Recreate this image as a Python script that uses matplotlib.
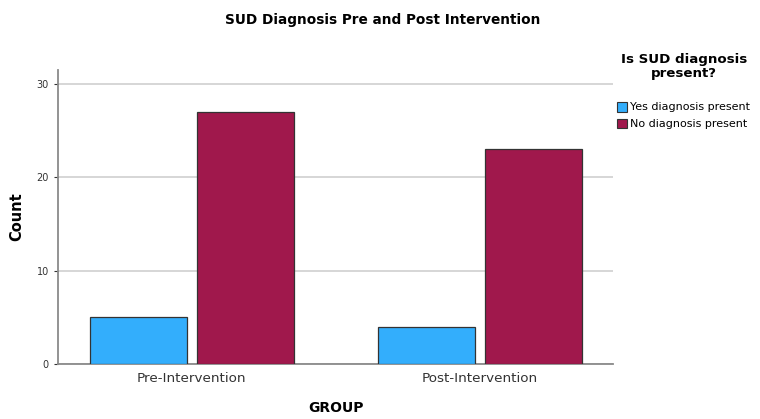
import numpy as np
import matplotlib
matplotlib.use("Agg")
import matplotlib.pyplot as plt
from matplotlib.patches import Patch

# data
groups = ["Pre-Intervention", "Post-Intervention"]
series_names = ["Yes diagnosis present", "No diagnosis present"]
yes_counts = [5, 4]
no_counts = [27, 23]
colors = ["#33AEFC", "#A0184C"]

fig = plt.figure(figsize=(7.6, 4.19), dpi=100)
ax = fig.add_axes([0.0763, 0.1313, 0.7303, 0.702])

x = np.arange(len(groups))
w = 0.336
gap = 0.035
ax.bar(x - (w + gap) / 2, yes_counts, w, color=colors[0], edgecolor="#333333", linewidth=0.9, zorder=3)
ax.bar(x + (w + gap) / 2, no_counts, w, color=colors[1], edgecolor="#333333", linewidth=0.9, zorder=3)

ax.set_xlim(-0.463, 1.461)
ax.set_ylim(0, 31.5)
ax.set_yticks([0, 10, 20, 30])
ax.yaxis.grid(True, color="#d0d0d0", linewidth=1.2, zorder=0)
ax.set_xticks(x)
ax.set_xticklabels(groups, fontsize=9.7, color="#333333")
ax.tick_params(axis="y", labelsize=7, colors="#333333", length=3, width=0.8)
ax.tick_params(axis="x", length=0, pad=6)
for s in ["top", "right"]:
    ax.spines[s].set_visible(False)
for s in ["left", "bottom"]:
    ax.spines[s].set_color("#8a8a8a")
    ax.spines[s].set_linewidth(1.3)

ax.set_ylabel("Count", fontsize=10.5, fontweight="bold", labelpad=9)
ax.set_xlabel("GROUP", fontsize=10, fontweight="bold", labelpad=11)

fig.text(0.503, 0.952, "SUD Diagnosis Pre and Post Intervention", ha="center", va="center",
         fontsize=9.8, fontweight="bold")
fig.text(0.9, 0.841, "Is SUD diagnosis\npresent?", ha="center", va="center",
         fontsize=9.6, fontweight="bold", linespacing=1.05)

handles = [Patch(facecolor=c, edgecolor="#333333", linewidth=0.8) for c in colors]
fig.legend(handles, series_names, loc="upper left", bbox_to_anchor=(0.806, 0.768),
           frameon=False, fontsize=8, handlelength=0.9, handleheight=1.0,
           handletextpad=0.3, labelspacing=0.55, borderaxespad=0)

fig.savefig("out.png", dpi=100)
